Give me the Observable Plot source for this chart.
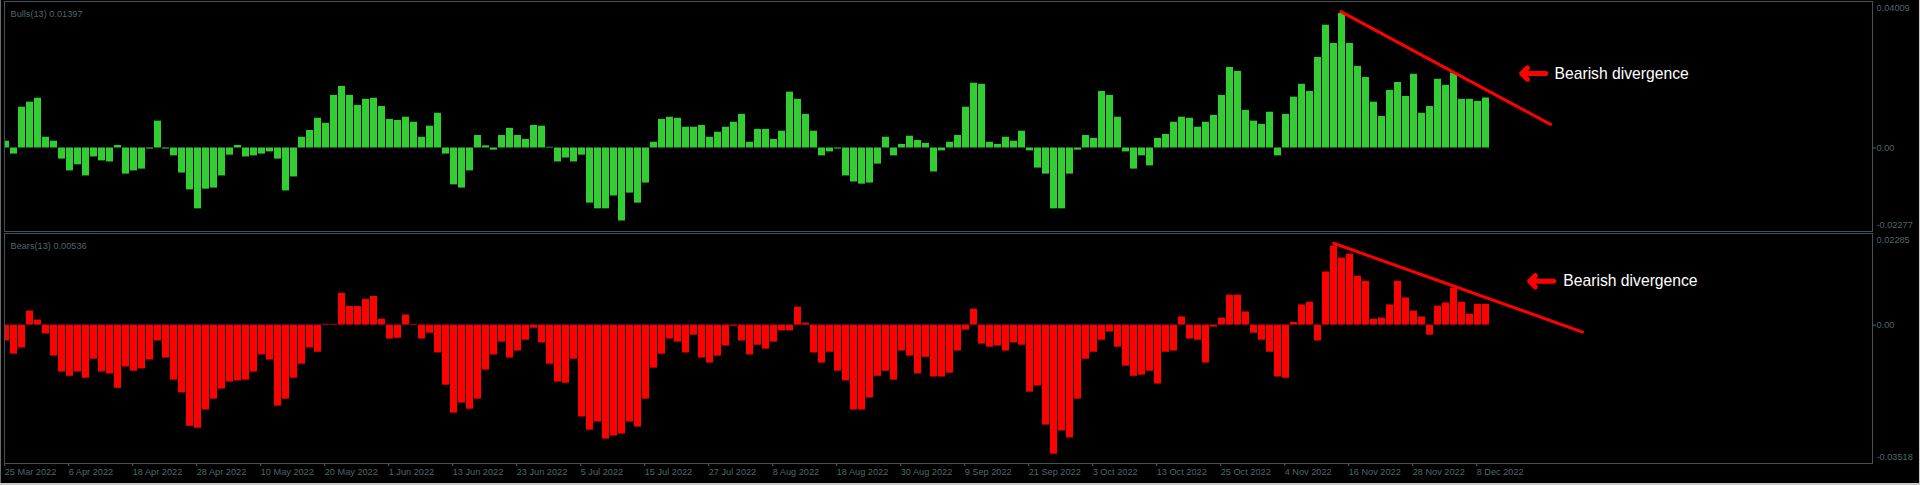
<!DOCTYPE html>
<html><head><meta charset="utf-8">
<script src="https://cdn.jsdelivr.net/npm/d3@7"></script>
<script src="https://cdn.jsdelivr.net/npm/@observablehq/plot@0.6"></script>
<style>
html,body{margin:0;padding:0;background:#000;}
#root{position:relative;width:1920px;height:485px;background:#000;overflow:hidden;font-family:"Liberation Sans",Arial,sans-serif;}
#root svg{position:absolute;left:0;display:block;}
.box{position:absolute;border:1px solid #3d5555;box-sizing:border-box;pointer-events:none;}
.edge{position:absolute;pointer-events:none;}
</style></head><body><div id="root"></div>
<script>
// Bulls Power (13) values, one per daily bar
const bulls = [
 0.0019,-0.0017,0.0114,0.0128,0.0139,0.0030,0.0019,-0.0031,-0.0064,-0.0047,
 -0.0078,-0.0025,-0.0036,-0.0039,0.0007,-0.0073,-0.0064,-0.0059,-0.0003,0.0075,
 -0.0003,-0.0022,-0.0070,-0.0117,-0.0170,-0.0115,-0.0112,-0.0078,-0.0020,0.0007,
 -0.0025,-0.0022,-0.0017,-0.0011,-0.0031,-0.0120,-0.0081,0.0030,0.0049,0.0083,
 0.0069,0.0147,0.0172,0.0147,0.0119,0.0136,0.0139,0.0116,0.0080,0.0077,
 0.0086,0.0072,0.0030,0.0061,0.0097,-0.0017,-0.0103,-0.0112,-0.0064,0.0035,
 0.0006,-0.0006,0.0035,0.0055,0.0035,0.0024,0.0063,0.0061,0.0002,-0.0039,
 -0.0028,-0.0039,-0.0020,-0.0154,-0.0170,-0.0170,-0.0134,-0.0204,-0.0126,-0.0154,
 -0.0098,0.0016,0.0080,0.0086,0.0083,0.0058,0.0058,0.0063,0.0030,0.0044,
 0.0058,0.0072,0.0094,0.0016,0.0052,0.0052,0.0024,0.0047,0.0156,0.0136,
 0.0094,0.0047,-0.0022,-0.0011,-0.0003,-0.0078,-0.0095,-0.0101,-0.0098,-0.0045,
 0.0030,-0.0022,0.0010,0.0033,0.0021,0.0013,-0.0067,-0.0008,0.0016,0.0035,
 0.0114,0.0181,0.0178,0.0016,0.0010,0.0030,0.0019,0.0047,-0.0008,-0.0056,
 -0.0073,-0.0170,-0.0170,-0.0073,-0.0006,0.0035,0.0027,0.0158,0.0147,0.0086,
 -0.0011,-0.0059,-0.0022,-0.0050,0.0027,0.0038,0.0072,0.0086,0.0083,0.0058,
 0.0072,0.0091,0.0147,0.0225,0.0214,0.0105,0.0075,0.0066,0.0100,-0.0022,
 0.0094,0.0142,0.0178,0.0158,0.0253,0.0343,0.0292,0.0376,0.0292,0.0228,
 0.0197,0.0128,0.0088,0.0161,0.0183,0.0144,0.0206,0.0097,0.0116,0.0192,
 0.0175,0.0209,0.0136,0.0136,0.0130,0.01397
];
// Bears Power (13) values
const bears = [
 -0.0041,-0.0075,-0.0059,0.0036,0.0013,-0.0023,-0.0080,-0.0121,-0.0132,-0.0121,
 -0.0137,-0.0088,-0.0121,-0.0126,-0.0163,-0.0108,-0.0119,-0.0113,-0.0090,-0.0041,
 -0.0085,-0.0142,-0.0175,-0.0261,-0.0266,-0.0219,-0.0191,-0.0165,-0.0147,-0.0144,
 -0.0142,-0.0121,-0.0077,-0.0090,-0.0209,-0.0191,-0.0137,-0.0101,-0.0059,-0.0070,
 0.0002,0.0002,0.0082,0.0048,0.0048,0.0066,0.0074,0.0015,-0.0036,-0.0034,
 0.0026,0.0002,-0.0036,-0.0021,-0.0072,-0.0155,-0.0227,-0.0201,-0.0217,-0.0191,
 -0.0116,-0.0077,-0.0044,-0.0085,-0.0067,-0.0039,-0.0008,-0.0046,-0.0101,-0.0147,
 -0.0150,-0.0088,-0.0237,-0.0271,-0.0250,-0.0294,-0.0286,-0.0281,-0.0250,-0.0263,
 -0.0191,-0.0111,-0.0075,-0.0036,-0.0044,-0.0072,-0.0026,-0.0085,-0.0098,-0.0080,
 -0.0054,-0.0003,-0.0041,-0.0077,-0.0052,-0.0062,-0.0044,-0.0015,-0.0015,0.0046,
 0.0005,-0.0072,-0.0098,-0.0070,-0.0119,-0.0144,-0.0219,-0.0219,-0.0188,-0.0132,
 -0.0119,-0.0142,-0.0067,-0.0080,-0.0126,-0.0083,-0.0134,-0.0134,-0.0124,-0.0067,
 -0.0013,0.0041,-0.0049,-0.0057,-0.0054,-0.0067,-0.0046,-0.0052,-0.0173,-0.0157,
 -0.0258,-0.0333,-0.0273,-0.0291,-0.0191,-0.0088,-0.0070,-0.0039,-0.0018,-0.0057,
 -0.0106,-0.0132,-0.0129,-0.0119,-0.0152,-0.0070,-0.0067,0.0021,-0.0036,-0.0039,
 -0.0098,-0.0005,0.0018,0.0077,0.0077,0.0034,-0.0021,-0.0039,-0.0070,-0.0134,
 -0.0137,0.0007,0.0052,0.0059,-0.0041,0.0137,0.0204,0.0173,0.0183,0.0126,
 0.0113,0.0015,0.0018,0.0052,0.0113,0.0070,0.0036,0.0021,-0.0026,0.0049,
 0.0057,0.0095,0.0059,0.0028,0.00536,0.00536
];
// date axis
const tickIndex = [0,8,16,24,32,40,48,56,64,72,80,88,96,104,112,120,128,136,144,152,160,168,176,184];
const tickLabels = ["25 Mar 2022","6 Apr 2022","18 Apr 2022","28 Apr 2022","10 May 2022","20 May 2022",
 "1 Jun 2022","13 Jun 2022","23 Jun 2022","5 Jul 2022","15 Jul 2022","27 Jul 2022","8 Aug 2022",
 "18 Aug 2022","30 Aug 2022","9 Sep 2022","21 Sep 2022","3 Oct 2022","13 Oct 2022","25 Oct 2022",
 "4 Nov 2022","16 Nov 2022","28 Nov 2022","8 Dec 2022"];
// panel scales (min, max shown on right axis)
const bullsRange = [-0.02277, 0.04009];
const bearsRange = [-0.03518, 0.02285];
const bullsTitle = "Bulls(13) 0.01397";
const bearsTitle = "Bears(13) 0.00536";
// divergence trend lines (bar index, value)
const bullsTrend = [{i: 167.3, v: 0.0381}, {i: 193.5, v: 0.0066}];
const bearsTrend = [{i: 166.4, v: 0.0211}, {i: 197.5, v: -0.0018}];
// notes
const bullsNote = [{from: 192.9, to: 189.9, tx: 194.0, v: 0.0208, label: "Bearish divergence"}];
const bearsNote = [{from: 193.9, to: 190.9, tx: 195.1, v: 0.0113, label: "Bearish divergence"}];

const AXIS = "#4d6868";
const LINE = "#3d5555";
const FS = 9.2;

function panel(values, color, range, title, trend, note, withX) {
  const data = values.map((v, i) => ({i, v}));
  const h = withX ? 253 : 232;
  const marks = [
    Plot.rect(data, {x1: d => d.i, x2: d => d.i + 1, y1: 0, y2: d => d.v, fill: color, insetRight: 1, clip: true}),
    Plot.line(trend, {x: "i", y: "v", stroke: "#ff0000", strokeWidth: 3}),
    Plot.arrow(note, {x1: "from", x2: "to", y1: "v", y2: "v", stroke: "#ff0000", strokeWidth: 5, headLength: 12, headAngle: 90}),
    Plot.text(note, {x: "tx", y: "v", text: "label", fill: "#ffffff", fontSize: 15.7, textAnchor: "start", fontFamily: "Liberation Sans, Arial, sans-serif"}),
    Plot.axisY({anchor: "right", ticks: [0], tickFormat: () => "0.00", tickSize: 3, tickPadding: 1, fontSize: FS, label: null}),
    Plot.text([range[1]], {y: d => d, frameAnchor: "right", dx: 4, dy: 4, textAnchor: "start", text: d => d.toFixed(5), fontSize: FS}),
    Plot.text([range[0]], {y: d => d, frameAnchor: "right", dx: 4, dy: -4, textAnchor: "start", text: d => d.toFixed(5), fontSize: FS}),
    Plot.text([title], {text: d => d, frameAnchor: "top-left", dx: 5, dy: 6, textAnchor: "start", fontSize: FS})
  ];
  if (withX) {
    marks.push(Plot.axisX({
      anchor: "bottom",
      ticks: tickIndex.map(k => k + 0.4),
      tickFormat: d => tickLabels[tickIndex.indexOf(Math.round(d - 0.4))],
      tickSize: 3, tickPadding: 2, textAnchor: "start", dx: -1, fontSize: FS, label: null
    }));
  }
  return Plot.plot({
    width: 1920, height: h,
    marginLeft: 5, marginRight: 48, marginTop: 4, marginBottom: withX ? 22 : 3,
    x: {type: "linear", domain: [0, 233.75], range: [2, 1872], axis: null},
    y: {domain: range, range: [229, 4], axis: null},
    style: {background: "#000", color: AXIS, fontFamily: "Liberation Sans, Arial, sans-serif", fontSize: FS + "px", overflow: "visible"},
    marks
  });
}

const root = document.getElementById("root");
const top1 = panel(bulls, "#32cd32", bullsRange, bullsTitle, bullsTrend, bullsNote, false);
top1.style.top = "0px";
const bot1 = panel(bears, "#ff0000", bearsRange, bearsTitle, bearsTrend, bearsNote, true);
bot1.style.top = "232px";
root.appendChild(top1);
root.appendChild(bot1);

function box(l, t, w, h) {
  const d = document.createElement("div");
  d.className = "box";
  Object.assign(d.style, {left: l + "px", top: t + "px", width: w + "px", height: h + "px", borderColor: LINE});
  root.appendChild(d);
}
box(4, 1, 1869, 231);
box(4, 233, 1869, 231);
function edge(css) {
  const d = document.createElement("div");
  d.className = "edge";
  Object.assign(d.style, css);
  root.appendChild(d);
}
edge({left: "0px", top: "0px", width: "1px", height: "485px", background: "#6a6a6a"});
edge({left: "0px", top: "483px", width: "1920px", height: "2px", background: "#c8c8c8"});
edge({left: "1919px", top: "0px", width: "1px", height: "485px", background: "#c8c8c8"});
</script></body></html>
